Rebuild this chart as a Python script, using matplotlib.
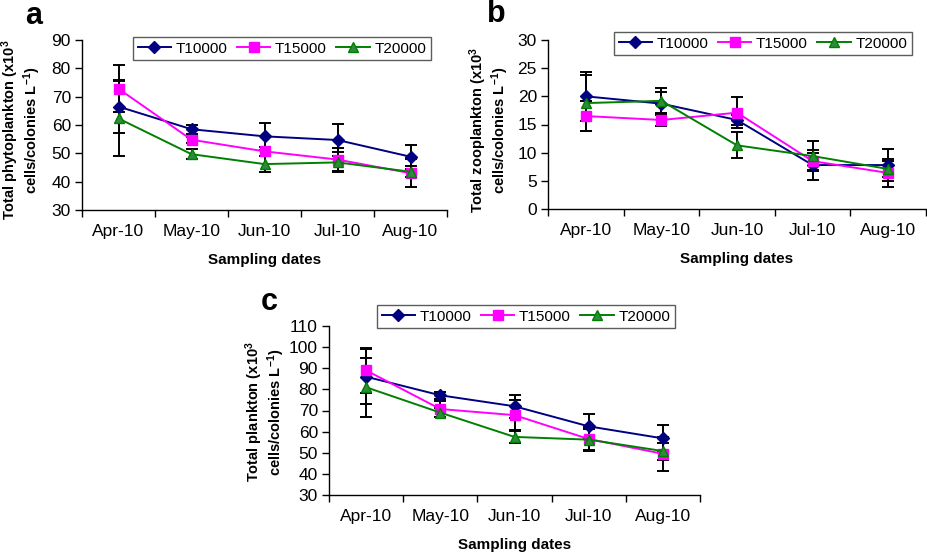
import matplotlib
matplotlib.use('Agg')
import matplotlib.pyplot as plt
import numpy as np

plt.rcParams['font.family'] = ['Liberation Sans', 'DejaVu Sans']
plt.rcParams['mathtext.fontset'] = 'custom'
plt.rcParams['mathtext.rm'] = 'Liberation Sans:bold'
plt.rcParams['mathtext.bf'] = 'Liberation Sans:bold'
plt.rcParams['mathtext.it'] = 'Liberation Sans:bold'
plt.rcParams['mathtext.default'] = 'bf'

months = ['Apr-10', 'May-10', 'Jun-10', 'Jul-10', 'Aug-10']
series = ['T10000', 'T15000', 'T20000']

# Panel a: phytoplankton
phyto_mean = {
    'T10000': [66.5, 58.5, 56.0, 54.7, 48.8],
    'T15000': [72.8, 54.8, 50.7, 47.8, 43.0],
    'T20000': [62.3, 49.7, 46.2, 46.8, 43.5],
}
phyto_err = {
    'T10000': [9.3, 1.5, 4.7, 5.5, 4.3],
    'T15000': [8.3, 1.0, 1.5, 4.0, 5.0],
    'T20000': [13.3, 1.8, 2.7, 3.5, 2.0],
}
# Panel b: zooplankton
zoo_mean = {
    'T10000': [20.0, 18.7, 15.8, 7.8, 7.8],
    'T15000': [16.5, 15.8, 17.1, 8.5, 6.4],
    'T20000': [18.8, 19.2, 11.3, 9.4, 7.1],
}
zoo_err = {
    'T10000': [4.4, 2.0, 0.8, 2.7, 2.9],
    'T15000': [2.7, 1.1, 2.8, 1.5, 2.5],
    'T20000': [5.0, 2.2, 2.3, 2.7, 1.5],
}
# Panel c: total plankton
tot_mean = {
    'T10000': [86.0, 77.2, 72.0, 62.5, 56.8],
    'T15000': [89.0, 70.7, 67.8, 56.5, 49.5],
    'T20000': [81.0, 69.0, 57.5, 56.2, 50.8],
}
tot_err = {
    'T10000': [13.0, 1.6, 5.5, 6.0, 6.2],
    'T15000': [10.7, 4.0, 7.0, 5.5, 8.0],
    'T20000': [14.0, 2.0, 3.0, 5.0, 4.0],
}

colors = {'T10000': '#000080', 'T15000': '#FF00FF', 'T20000': '#008000'}
markers = {'T10000': 'D', 'T15000': 's', 'T20000': '^'}
msizes = {'T10000': 6.5, 'T15000': 7.5, 'T20000': 7.5}
mfaces = {'T10000': '#000080', 'T15000': '#FF00FF', 'T20000': '#2E8B3E'}

W, H = 927, 559
fig = plt.figure(figsize=(W / 100, H / 100), dpi=100)


def make_ax(l, r, t, b):
    return fig.add_axes([l / W, 1 - b / H, (r - l) / W, (b - t) / H])


def draw(ax, mean, err, ylim, yticks, ylabel, legend_bbox, panel, panel_xy, ylabel_xy):
    x = np.arange(1, len(months) + 1)
    for s in series:
        ax.errorbar(x, mean[s], yerr=err[s], fmt='none', ecolor='black',
                    elinewidth=1.4, capsize=4, capthick=1.4, zorder=2)
    handles = []
    for s in series:
        h, = ax.plot(x, mean[s], color=colors[s], marker=markers[s],
                     markersize=msizes[s], markerfacecolor=mfaces[s],
                     markeredgecolor=colors[s], linewidth=1.4, label=s, zorder=3)
        handles.append(h)
    ax.set_xlim(0.5, len(months) + 0.5)
    ax.set_ylim(*ylim)
    ax.set_yticks(yticks)
    ax.set_xticks(np.arange(0.5, len(months) + 1, 1.0))
    ax.set_xticklabels([])
    ax.set_xticks(x, minor=True)
    ax.set_xticklabels(months, minor=True)
    ax.tick_params(axis='x', which='minor', length=0, pad=10, labelsize=12.5)
    ax.tick_params(axis='x', which='major', length=5, width=1, direction='out')
    ax.tick_params(axis='y', length=5, width=1, direction='out', labelsize=12.5, pad=3)
    for sp in ['top', 'right']:
        ax.spines[sp].set_visible(False)
    for sp in ['left', 'bottom']:
        ax.spines[sp].set_linewidth(1.0)
        ax.spines[sp].set_color('black')
    ax.set_xlabel('Sampling dates', fontsize=11, fontweight='bold', labelpad=10)
    ax.set_ylabel(ylabel, fontsize=10.5, fontweight='bold', linespacing=1.0)
    ax.yaxis.set_label_coords(ylabel_xy[0] / W, 1 - ylabel_xy[1] / H,
                              transform=fig.transFigure)
    leg = ax.legend(handles=handles, ncol=3, loc='upper left', bbox_to_anchor=legend_bbox,
                    bbox_transform=fig.transFigure, fontsize=11, frameon=True,
                    fancybox=False, edgecolor='#333333', handlelength=2.2,
                    handletextpad=0.3, columnspacing=0.6, borderpad=0.3,
                    borderaxespad=0)
    leg.get_frame().set_linewidth(1.0)
    fig.text(panel_xy[0] / W, 1 - panel_xy[1] / H, panel, fontsize=22,
             fontweight='bold', ha='left', va='center')


ax_a = make_ax(82, 447, 40, 210)
draw(ax_a, phyto_mean, phyto_err, (30, 90), np.arange(30, 91, 10),
     'Total phytoplankton (x10$^{3}$\ncells/colonies L$^{-1}$)',
     (133 / W, 1 - 37 / H), 'a', (25, 16), (43, 130))

ax_b = make_ax(548, 926, 40, 209)
draw(ax_b, zoo_mean, zoo_err, (0, 30), np.arange(0, 31, 5),
     'Total zooplankton (x10$^{3}$\ncells/colonies L$^{-1}$)',
     (614 / W, 1 - 32 / H), 'b', (487, 14), (511, 130))

ax_c = make_ax(329, 700, 326, 495)
draw(ax_c, tot_mean, tot_err, (30, 110), np.arange(30, 111, 10),
     'Total plankton (x10$^{3}$\ncells/colonies L$^{-1}$)',
     (377 / W, 1 - 305 / H), 'c', (261, 302), (287, 412))

fig.savefig('out.png', dpi=100)
